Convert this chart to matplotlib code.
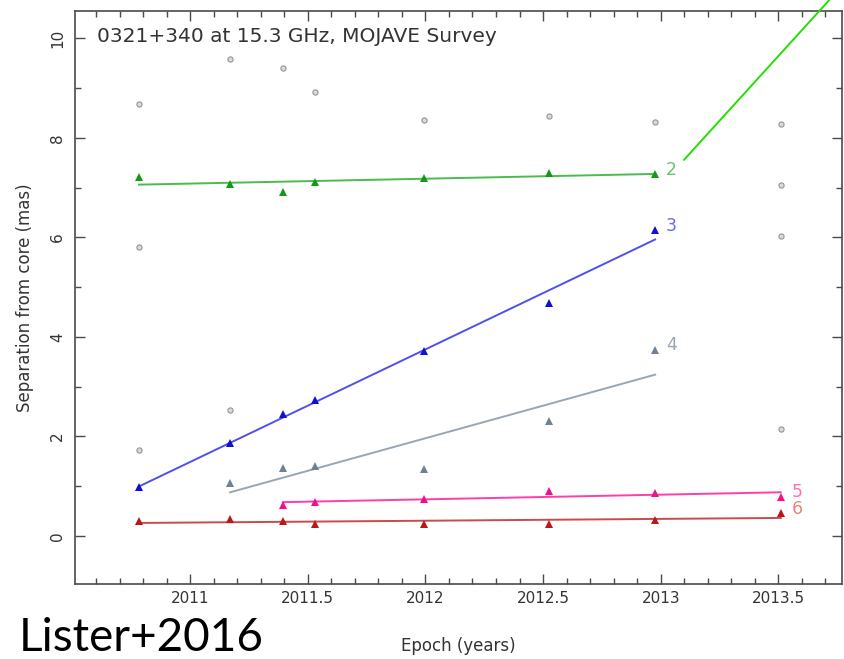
import numpy as np
import matplotlib
matplotlib.use('Agg')
import matplotlib.pyplot as plt
from matplotlib.ticker import MultipleLocator

# ── Component positions (epoch in years, separation in mas) ──────────────────
epochs = [2010.783, 2011.170, 2011.394, 2011.530, 2011.995, 2012.526, 2012.976, 2013.510]

# unassigned / non-robust components (grey circles)
other_x = [2010.783, 2010.783, 2010.783, 2011.170, 2011.170, 2011.394, 2011.530,
           2011.995, 2012.526, 2012.976, 2013.510, 2013.510, 2013.510, 2013.510]
other_y = [8.68, 5.81, 1.72, 9.59, 2.53, 9.41, 8.93,
           8.36, 8.44, 8.31, 8.28, 7.06, 6.02, 2.16]

comp2_x = [2010.783, 2011.170, 2011.394, 2011.530, 2011.995, 2012.526, 2012.976]
comp2_y = [7.22, 7.08, 6.91, 7.11, 7.20, 7.30, 7.28]

comp3_x = [2010.783, 2011.170, 2011.394, 2011.530, 2011.995, 2012.526, 2012.976]
comp3_y = [0.98, 1.86, 2.46, 2.73, 3.72, 4.68, 6.14]

comp4_x = [2011.170, 2011.394, 2011.530, 2011.995, 2012.526, 2012.976]
comp4_y = [1.07, 1.37, 1.41, 1.35, 2.31, 3.74]

comp5_x = [2011.394, 2011.530, 2011.995, 2012.526, 2012.976, 2013.510]
comp5_y = [0.62, 0.68, 0.74, 0.91, 0.87, 0.78]

comp6_x = [2010.783, 2011.170, 2011.394, 2011.530, 2011.995, 2012.526, 2012.976, 2013.510]
comp6_y = [0.30, 0.34, 0.30, 0.24, 0.24, 0.25, 0.32, 0.46]

xtick_vals = [2011, 2011.5, 2012, 2012.5, 2013, 2013.5]
xtick_labels = ['2011', '2011.5', '2012', '2012.5', '2013', '2013.5']

# (id, x, y, marker colour, fit colour, label colour, label offset in mas)
components = [
    ('2', comp2_x, comp2_y, '#139a13', '#4cbb4c', '#6cc06c', 0.08),
    ('3', comp3_x, comp3_y, '#1010d0', '#5050ee', '#6a6aee', 0.08),
    ('4', comp4_x, comp4_y, '#6f8194', '#98a6b4', '#9aa6b2', 0.10),
    ('5', comp5_x, comp5_y, '#f0108a', '#ff3fa8', '#ff70b8', 0.10),
    ('6', comp6_x, comp6_y, '#b81818', '#cc4a4a', '#ee8080', 0.08),
]

fig = plt.figure(figsize=(8.45, 6.59), dpi=100)
ax = fig.add_axes([0.0888, 0.1138, 0.9076, 0.8695])

ax.scatter(other_x, other_y, s=14, facecolors='#dadada', edgecolors='#959595',
           linewidths=0.8, zorder=3)

for cid, xs, ys, mcol, lcol, tcol, dy in components:
    xs = np.array(xs)
    ys = np.array(ys)
    # linear least-squares motion fit over the component's epochs
    slope, icpt = np.polyfit(xs, ys, 1)
    xf = np.array([xs.min(), xs.max()])
    ax.plot(xf, slope * xf + icpt, color=lcol, lw=1.4, zorder=2)
    ax.plot(xs, ys, ls='none', marker='^', ms=6, color=mcol,
            markeredgewidth=0, zorder=4)
    ax.text(xs[-1] + 0.045, ys[-1] + dy, cid, color=tcol, fontsize=12.5,
            ha='left', va='center', zorder=5)

# pointer line running off the top of the panel
ax.plot([2013.099, 2013.716], [7.56, 10.77], color='#22e000', lw=1.4,
        clip_on=False, zorder=6)

ax.set_xlim(2010.511, 2013.77)
ax.set_ylim(-0.965, 10.55)

ax.xaxis.set_minor_locator(MultipleLocator(0.1))
ax.yaxis.set_major_locator(MultipleLocator(2))
ax.yaxis.set_minor_locator(MultipleLocator(1))
ax.set_xticks(xtick_vals)
ax.set_xticklabels(xtick_labels)

ax.tick_params(which='both', direction='in', top=True, right=True,
               colors='#4a4a4a', labelcolor='#333333', labelsize=11, width=1.0)
ax.tick_params(which='major', length=7)
ax.tick_params(which='minor', length=4)
ax.tick_params(axis='x', which='major', pad=5)
ax.tick_params(axis='y', which='major', pad=7)
for lab in ax.get_yticklabels():
    lab.set_rotation(90)
    lab.set_va('center')
for sp in ax.spines.values():
    sp.set_color('#4a4a4a')
    sp.set_linewidth(1.2)

ax.set_xlabel('Epoch (years)', fontsize=12, color='#333333', labelpad=22)
ax.set_ylabel('Separation from core (mas)', fontsize=12, color='#333333', labelpad=12)

ax.text(0.028, 0.955, '0321+340 at 15.3 GHz, MOJAVE Survey', transform=ax.transAxes,
        fontsize=14.5, color='#333333', ha='left', va='center')

fig.text(0.022, 0.012, 'Lister+2016', fontsize=33, family='Lato',
         color='black', ha='left', va='baseline')

fig.savefig('out.png', dpi=100, facecolor='white')
